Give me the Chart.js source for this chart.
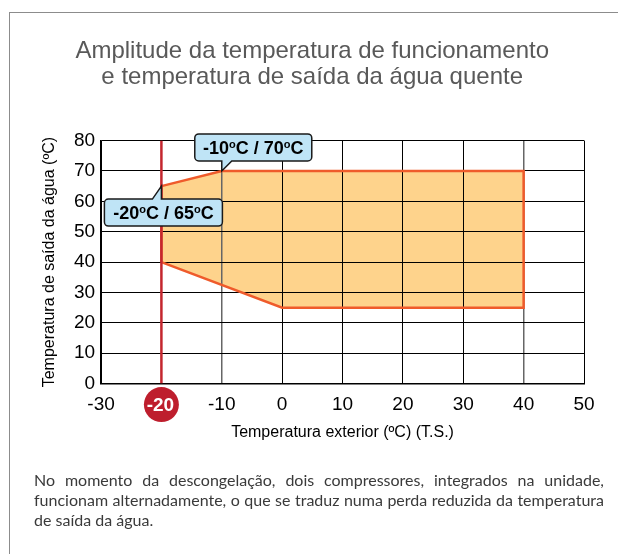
<!DOCTYPE html>
<html>
<head>
<meta charset="utf-8">
<script src="https://cdn.jsdelivr.net/npm/chart.js@4/dist/chart.umd.min.js"></script>
<style>
html, body { margin: 0; padding: 0; background: #fff; }
#wrap { position: relative; width: 618px; height: 554px; overflow: hidden; }
#frame { position: absolute; left: 9px; top: 12px; width: 700px; height: 700px;
  border-left: 1.5px solid #8c8c8c; border-top: 1.5px solid #8c8c8c; }
#graf { position: absolute; left: 0; top: 0; }
#nota { position: absolute; left: 34px; top: 470px; width: 570px;
  font-family: Lato, "Open Sans", sans-serif; font-size: 16px; line-height: 20px; color: #3a3a3a; }
#nota div { white-space: nowrap; }
#nota .j { text-align: justify; text-align-last: justify; white-space: normal; }
</style>
</head>
<body>
<div id="wrap">
  <div id="frame"></div>
  <canvas id="graf" width="618" height="554"></canvas>
  <div id="nota">
    <div class="j">No momento da descongelação, dois compressores, integrados na unidade,</div>
    <div class="j">funcionam alternadamente, o que se traduz numa perda reduzida da temperatura</div>
    <div>de saída da água.</div>
  </div>
</div>
<script>
// eixos
const xTicks = [-30, -20, -10, 0, 10, 20, 30, 40, 50];
const yTicks = [0, 10, 20, 30, 40, 50, 60, 70, 80];

// zona de funcionamento: temperatura exterior / temperatura de saída da água
const zonaX = [-20, -20, -10, 40, 40, 0, -20];
const zonaY = [40, 65, 70, 70, 25, 25, 40];

// limite mínimo da temperatura exterior
const limiteX = -20;

// pontos assinalados nas caixas
const caixaX = [-10, -20];
const caixaY = [70, 65];

const FONT = '"Liberation Sans", Arial, sans-serif';

function caixaPath(ctx, l, t, w, h, rad, side, a, tipX, tipY, b) {
    const r = l + w, bt = t + h;
    ctx.beginPath();
    ctx.moveTo(l + rad, t);
    if (side === 'top') { ctx.lineTo(a, t); ctx.lineTo(tipX, tipY); ctx.lineTo(b, t); }
    ctx.arcTo(r, t, r, bt, rad);
    ctx.arcTo(r, bt, l, bt, rad);
    if (side === 'bottom') { ctx.lineTo(b, bt); ctx.lineTo(tipX, tipY); ctx.lineTo(a, bt); }
    ctx.arcTo(l, bt, l, t, rad);
    ctx.arcTo(l, t, r, t, rad);
    ctx.closePath();
}

// texto tipo "-10ºC / 70ºC" com o "º" pequeno e elevado
function textoGraus(ctx, cx, base, t1, t2) {
    const big = 'bold 18px ' + FONT, small = 'bold 11px ' + FONT;
    const parts = [[t1, big, 0], ['o', small, -6], ['C / ' + t2, big, 0], ['o', small, -6], ['C', big, 0]];
    let w = 0;
    parts.forEach(p => { ctx.font = p[1]; w += ctx.measureText(p[0]).width; });
    let x = cx - w / 2;
    ctx.fillStyle = '#000';
    ctx.textAlign = 'left';
    ctx.textBaseline = 'alphabetic';
    parts.forEach(p => {
        ctx.font = p[1];
        ctx.fillText(p[0], x, base + p[2]);
        x += ctx.measureText(p[0]).width;
    });
}

const extras = {
    id: 'extras',
    afterDraw(chart) {
        const ctx = chart.ctx;
        const sx = chart.scales.x, sy = chart.scales.y;
        ctx.save();

        // círculo vermelho no -20
        const cx = sx.getPixelForValue(limiteX);
        const cy = sy.getPixelForValue(0) + 21;
        ctx.beginPath();
        ctx.arc(cx, cy, 17.5, 0, Math.PI * 2);
        ctx.fillStyle = '#be1e2d';
        ctx.fill();
        ctx.fillStyle = '#fff';
        ctx.font = 'bold 19px ' + FONT;
        ctx.textAlign = 'center';
        ctx.textBaseline = 'middle';
        ctx.fillText(String(limiteX), cx - 1, cy + 1);

        // caixa -10/70 (seta para baixo)
        let px = sx.getPixelForValue(caixaX[0]), py = sy.getPixelForValue(caixaY[0]);
        caixaPath(ctx, px - 27, py - 37, 117, 27, 4, 'bottom', px, px, py, px + 10);
        ctx.fillStyle = '#bfe4f6';
        ctx.fill();
        ctx.lineWidth = 1.5;
        ctx.strokeStyle = '#1a1a1a';
        ctx.stroke();
        textoGraus(ctx, px - 27 + 58.5, py - 17, String(caixaX[0]), String(caixaY[0]));

        // caixa -20/65 (seta para cima)
        px = sx.getPixelForValue(caixaX[1]); py = sy.getPixelForValue(caixaY[1]);
        caixaPath(ctx, px - 57, py + 13, 118, 27, 4, 'top', px - 9, px, py, px);
        ctx.fillStyle = '#bfe4f6';
        ctx.fill();
        ctx.stroke();
        textoGraus(ctx, px - 57 + 59, py + 33, String(caixaX[1]), String(caixaY[1]));

        ctx.restore();
    }
};

const ctx = document.getElementById('graf').getContext('2d');
const myChart = new Chart(ctx, {
    type: 'scatter',
    data: {
        datasets: [{
            // linha vertical vermelha
            data: [{ x: limiteX, y: 0 }, { x: limiteX, y: 80 }],
            showLine: true,
            borderColor: '#c4262e',
            borderWidth: 2.5,
            pointRadius: 0,
            fill: false
        }, {
            data: zonaX.map((x, i) => ({ x: x, y: zonaY[i] })),
            showLine: true,
            borderColor: '#ef5b2b',
            borderWidth: 2.5,
            backgroundColor: '#fed38c',
            fill: 'shape',
            pointRadius: 0,
            tension: 0
        }]
    },
    options: {
        responsive: false,
        animation: false,
        layout: { padding: { left: 40.4, right: 34, top: 0, bottom: 111.4 } },
        plugins: {
            legend: { display: false },
            tooltip: { enabled: false },
            filler: { drawTime: 'beforeDraw' },
            title: {
                display: true,
                text: ['Amplitude da temperatura de funcionamento', 'e temperatura de saída da água quente'],
                color: '#595959',
                font: { family: FONT, size: 24, weight: 'normal', lineHeight: 1.08 },
                padding: { top: 38, bottom: 50.7 }
            }
        },
        scales: {
            x: {
                type: 'linear',
                min: -30, max: 50,
                afterBuildTicks: s => { s.ticks = xTicks.map(v => ({ value: v })); },
                ticks: {
                    color: '#000',
                    font: { family: FONT, size: 19 },
                    padding: 10,
                    callback: v => v === limiteX ? '' : v
                },
                grid: {
                    drawTicks: false,
                    color: c => (c.tick && (c.tick.value === -10 || c.tick.value === 40)) ? '#666' : '#000',
                    lineWidth: c => (c.tick && (c.tick.value === -10 || c.tick.value === 40)) ? 1.5 : 1
                },
                border: { color: '#000', width: 1.5 },
                title: {
                    display: true,
                    text: 'Temperatura exterior (ºC) (T.S.)',
                    color: '#000',
                    font: { family: FONT, size: 16 },
                    padding: { top: -3, bottom: 0 }
                }
            },
            y: {
                min: 0, max: 80,
                afterBuildTicks: s => { s.ticks = yTicks.map(v => ({ value: v })); },
                ticks: {
                    color: '#000',
                    font: { family: FONT, size: 19 },
                    padding: 6
                },
                grid: { drawTicks: false, color: '#000', lineWidth: 1 },
                border: { color: '#000', width: 1.5 },
                title: {
                    display: true,
                    text: 'Temperatura de saída da água (ºC)',
                    color: '#000',
                    font: { family: FONT, size: 16 },
                    padding: { top: 0, bottom: 8.3 }
                }
            }
        }
    },
    plugins: [extras]
});
</script>
</body>
</html>
